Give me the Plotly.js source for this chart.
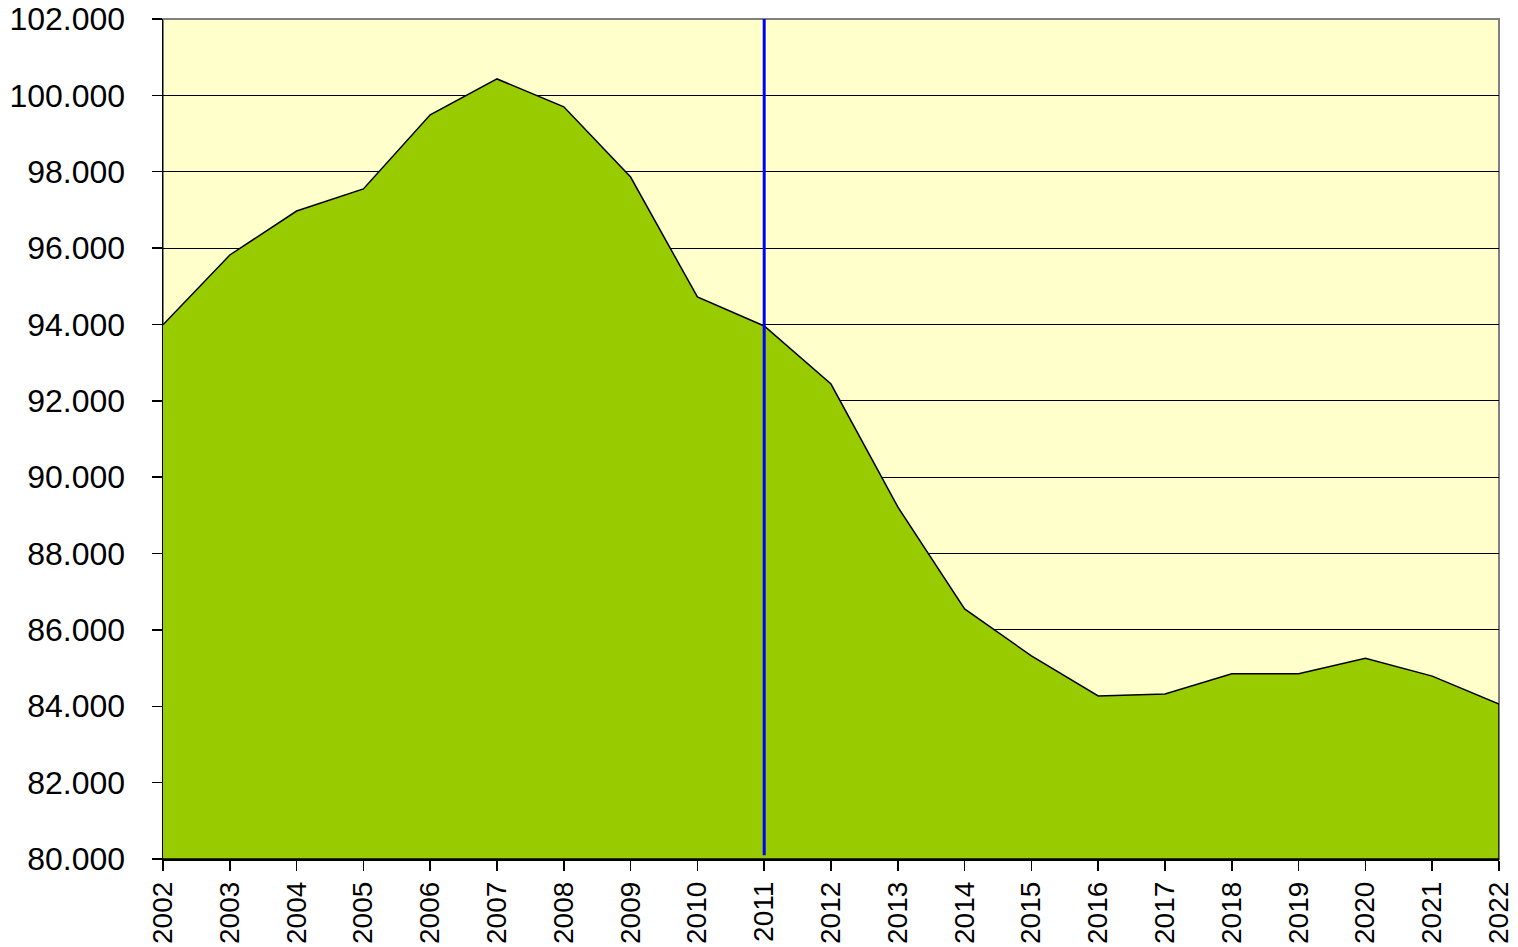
<!DOCTYPE html>
<html>
<head>
<meta charset="utf-8">
<script src="https://cdn.plot.ly/plotly-3.0.1.min.js"></script>
<style>html,body{margin:0;padding:0;background:#fff;}#chart{width:1518px;height:947px;}</style>
</head>
<body>
<div id="chart"></div>
<script>
var years = [2002,2003,2004,2005,2006,2007,2008,2009,2010,2011,2012,2013,2014,2015,2016,2017,2018,2019,2020,2021,2022];
var values = [93990,95820,96970,97550,99490,100430,99700,97860,94720,93960,92440,89220,86550,85320,84270,84320,84850,84850,85260,84790,84060];
var baseValue = 80000;
var markerYear = 2011;

var polyX = years.concat([years[years.length-1], years[0]]);
var polyY = values.concat([baseValue, baseValue]);

var trace = {
  x: polyX, y: polyY, type: 'scatter', mode: 'lines',
  fill: 'toself', fillcolor: '#99CC00',
  line: {color: '#000000', width: 1.5},
  hoverinfo: 'skip', showlegend: false
};

var layout = {
  width: 1518, height: 947,
  margin: {l: 163, r: 19, t: 19, b: 88},
  paper_bgcolor: '#ffffff',
  plot_bgcolor: '#FFFFCC',
  separators: ',.',
  font: {family: 'Liberation Sans, Arial, sans-serif', size: 32, color: '#000'},
  xaxis: {
    type: 'linear', range: [years[0], years[years.length-1]],
    tickmode: 'array', tickvals: years, ticktext: years.map(String),
    tickangle: -90, ticks: 'outside', ticklen: 10, tickcolor: '#000', tickwidth: 1.5,
    tickfont: {size: 28},
    showgrid: false, zeroline: false,
    showline: true, linecolor: '#000', linewidth: 1.5,
    ticklabelstandoff: 0
  },
  yaxis: {
    range: [80000, 102000], dtick: 2000, tick0: 80000,
    tickformat: ',d', ticks: 'outside', ticklen: 10, tickcolor: '#000', tickwidth: 1.5,
    showgrid: true, gridcolor: '#000', gridwidth: 1,
    zeroline: false, showline: true, linecolor: '#000', linewidth: 1.5,
    ticklabelstandoff: 20
  },
  shapes: [
    {type: 'rect', xref: 'paper', yref: 'paper', x0: 0, x1: 1, y0: 0, y1: 1,
     line: {color: '#808080', width: 2}, layer: 'below'},
    {type: 'line', xref: 'x', yref: 'y', x0: markerYear, x1: markerYear, y0: 80100, y1: 102050,
     line: {color: '#0000FF', width: 3}}
  ]
};

Plotly.newPlot('chart', [trace], layout, {staticPlot: true, displayModeBar: false});
</script>
</body>
</html>
